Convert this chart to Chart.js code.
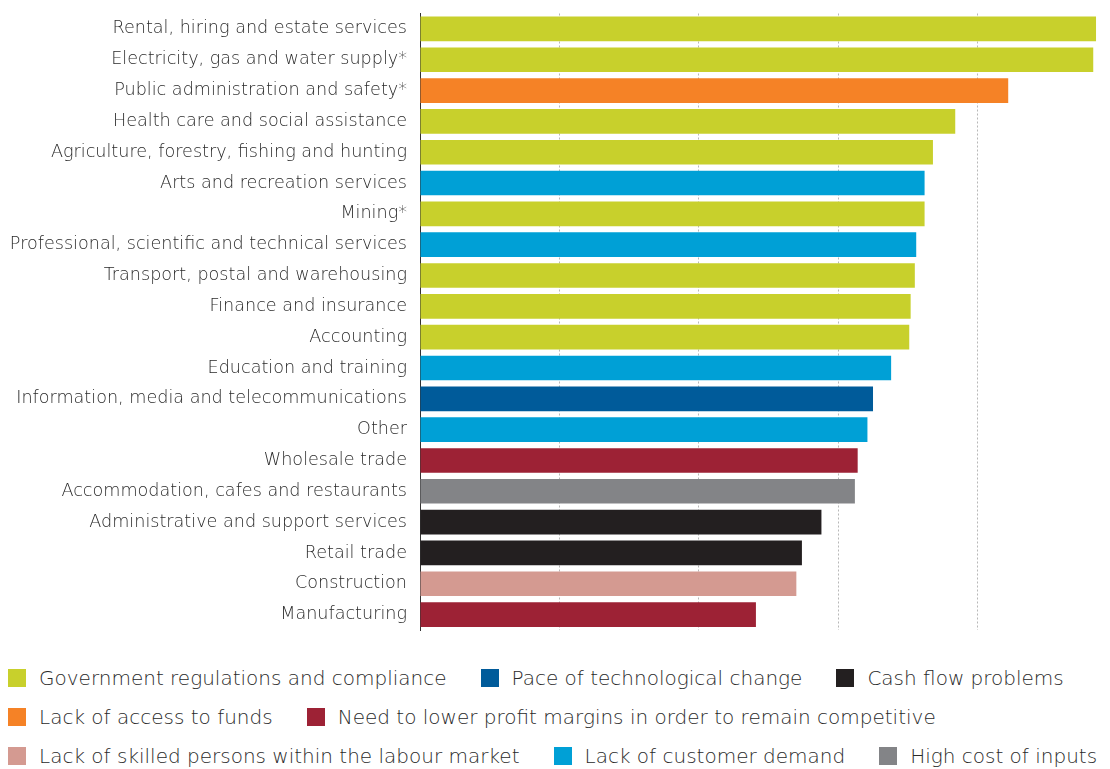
<!DOCTYPE html>
<html>
<head>
<meta charset="utf-8">
<script src="https://cdn.jsdelivr.net/npm/chart.js@4/dist/chart.umd.min.js"></script>
<style>
  html, body { margin: 0; padding: 0; background: #ffffff; }
  #wrap { position: relative; width: 1110px; height: 769px; overflow: hidden; }
  #chartBox { position: absolute; left: 0; top: 0; width: 1110px; height: 650px; }
  #legend { position: absolute; left: 8px; top: 658px; font-family: "DejaVu Sans", sans-serif; font-weight: 300; font-size: 20px; color: #2a2a2a; }
  .row { display: flex; align-items: center; height: 39px; white-space: nowrap; }
  .item { display: flex; align-items: center; margin-right: 34px; }
  .sw { width: 18px; height: 18px; margin-right: 13px; flex: none; }
</style>
</head>
<body>
<div id="wrap">
  <div id="chartBox"><canvas id="c"></canvas></div>
  <div id="legend"></div>
</div>
<script>
const categories = [
  "Rental, hiring and estate services",
  "Electricity, gas and water supply*",
  "Public administration and safety*",
  "Health care and social assistance",
  "Agriculture, forestry, fishing and hunting",
  "Arts and recreation services",
  "Mining*",
  "Professional, scientific and technical services",
  "Transport, postal and warehousing",
  "Finance and insurance",
  "Accounting",
  "Education and training",
  "Information, media and telecommunications",
  "Other",
  "Wholesale trade",
  "Accommodation, cafes and restaurants",
  "Administrative and support services",
  "Retail trade",
  "Construction",
  "Manufacturing"
];
const values = [48.5, 48.3, 42.2, 38.4, 36.8, 36.2, 36.2, 35.6, 35.5, 35.2, 35.1, 33.8, 32.5, 32.1, 31.4, 31.2, 28.8, 27.4, 27.0, 24.1];

const barrierNames = [
  "Government regulations and compliance",
  "Pace of technological change",
  "Cash flow problems",
  "Lack of access to funds",
  "Need to lower profit margins in order to remain competitive",
  "Lack of skilled persons within the labour market",
  "Lack of customer demand",
  "High cost of inputs"
];
const barrierColors = ["#c8d02c", "#005b9a", "#231f20", "#f58226", "#9d2235", "#d49a91", "#00a0d6", "#838487"];
const barrierOfCategory = [0, 0, 3, 0, 0, 6, 0, 6, 0, 0, 0, 6, 1, 6, 4, 7, 2, 2, 5, 4];
const legendRows = [[0, 1, 2], [3, 4], [5, 6, 7]];

const xMax = 49;

// HTML legend
const legendEl = document.getElementById('legend');
legendRows.forEach(r => {
  const row = document.createElement('div');
  row.className = 'row';
  r.forEach(i => {
    const it = document.createElement('div');
    it.className = 'item';
    const sw = document.createElement('span');
    sw.className = 'sw';
    sw.style.background = barrierColors[i];
    const tx = document.createElement('span');
    tx.textContent = barrierNames[i];
    it.appendChild(sw); it.appendChild(tx);
    row.appendChild(it);
  });
  legendEl.appendChild(row);
});

new Chart(document.getElementById('c'), {
  type: 'bar',
  data: {
    labels: categories,
    datasets: [{
      data: values,
      backgroundColor: barrierOfCategory.map(i => barrierColors[i]),
      borderWidth: 0,
      barPercentage: 0.8,
      categoryPercentage: 1.0
    }]
  },
  options: {
    indexAxis: 'y',
    responsive: true,
    maintainAspectRatio: false,
    animation: false,
    layout: { padding: { top: 13.5, bottom: 20, left: 0, right: 7 } },
    plugins: { legend: { display: false }, tooltip: { enabled: false } },
    scales: {
      x: {
        min: 0, max: xMax,
        ticks: { display: false, stepSize: 10 },
        border: { display: false, dash: [2, 2] },
        grid: {
          drawTicks: false,
          color: ctx => (ctx.tick && ctx.tick.value > 0 && ctx.tick.value % 10 === 0) ? '#b8b8b8' : 'rgba(0,0,0,0)',
          lineWidth: 1
        }
      },
      y: {
        afterFit: s => { s.width = 420; s.paddingTop = 0; s.paddingBottom = 0; },
        grid: { display: false, drawTicks: false },
        border: { display: true, color: '#333333', width: 1 },
        ticks: {
          padding: 13,
          color: '#2a2a2a',
          autoSkip: false,
          font: { family: '"DejaVu Sans", sans-serif', size: 17.6, weight: 300 }
        }
      }
    }
  }
});
</script>
</body>
</html>
